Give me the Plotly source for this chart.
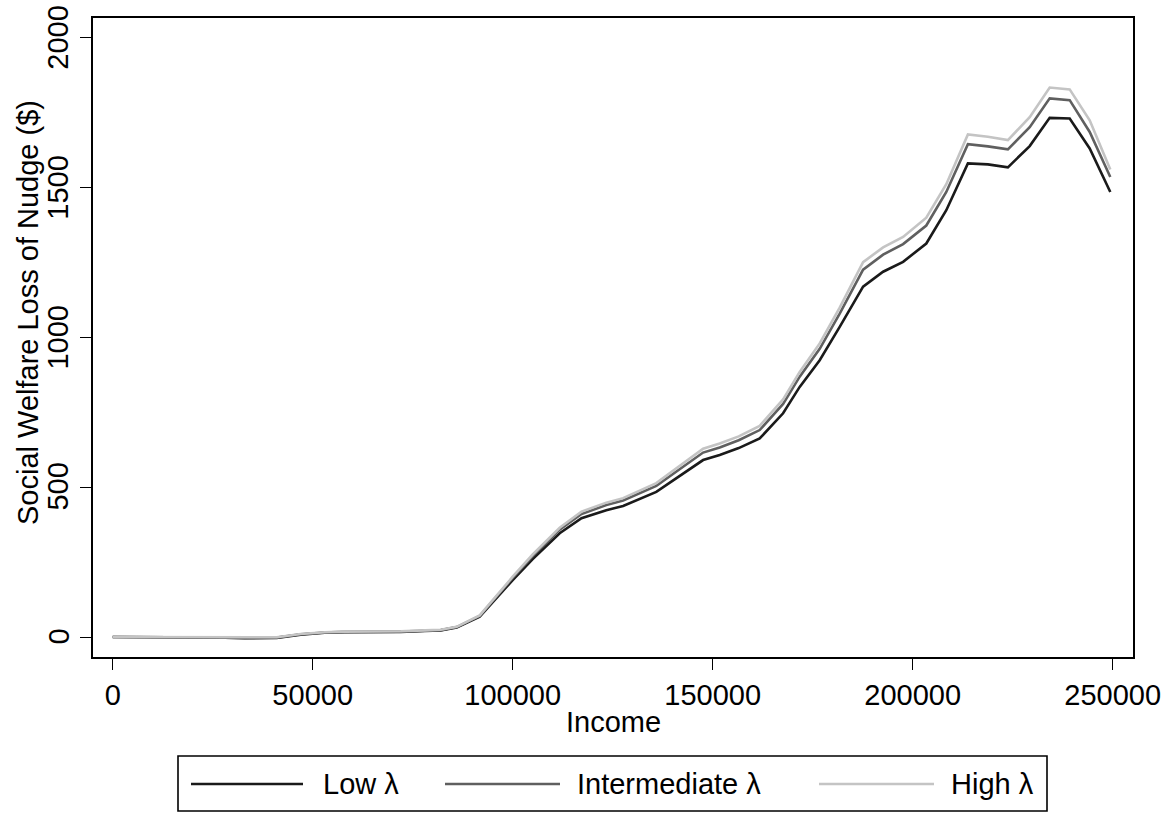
import plotly.graph_objects as go

# ---------------- data ----------------
income = [0, 5000, 10000, 15000, 20000, 25000, 28000, 33000, 38000, 41000,
          47000, 53000, 58000, 65000, 72000, 78000, 82000, 86000, 91750, 100000,
          105000, 111750, 117200, 123400, 127600, 135900, 140900, 147600, 151750, 156500,
          161750, 167600, 171750, 176750, 181750, 187600, 192600, 197600, 203400, 208400,
          213800, 218800, 223800, 229250, 234250, 239250, 244250, 249400]

low_lambda = [0, 0, 0, -1, 0, 0, -2, -4, -4, -3,
              8, 14, 16, 16, 17, 20, 22, 32, 68, 190,
              260, 346, 396, 423, 437, 484, 529, 590, 607, 630,
              662, 746, 834, 923, 1034, 1168, 1218, 1251, 1312, 1423,
              1579, 1576, 1566, 1637, 1731, 1729, 1629, 1484]

intermediate_lambda = [0, 0, 0, 0, 0, 0, -2, -3, -3, -2,
                       9, 15, 17, 17, 18, 21, 23, 33, 70, 197,
                       270, 358, 410, 440, 455, 504, 551, 615, 632, 656,
                       690, 777, 868, 961, 1078, 1225, 1275, 1310, 1372, 1484,
                       1643, 1636, 1626, 1700, 1796, 1790, 1684, 1534]

high_lambda = [0, 0, 0, 0, 0, 0, -1, -2, -2, -1,
               10, 16, 18, 18, 19, 22, 24, 34, 72, 201,
               275, 364, 418, 448, 463, 513, 561, 628, 645, 669,
               704, 792, 884, 979, 1098, 1250, 1299, 1334, 1398, 1510,
               1676, 1668, 1657, 1733, 1832, 1826, 1723, 1559]

series_names = ["Low \u03bb", "Intermediate \u03bb", "High \u03bb"]
series_values = [low_lambda, intermediate_lambda, high_lambda]
series_colors = ["#1a1a1a", "#5f5f5f", "#c4c4c4"]

x_ticks = [0, 50000, 100000, 150000, 200000, 250000]
y_ticks = [0, 500, 1000, 1500, 2000]

# ---------------- layout geometry (page pixels) ----------------
W, H = 1171, 813
L, R, T, B = 93, 1133, 18, 657  # plot frame in page pixels
FONT = "Liberation Sans, Arial, sans-serif"
FS = 29
Y_RANGE = [-66.7, 2064]


def px(xp):
    return (xp - L) / (R - L)


def py(yp):
    return (B - yp) / (B - T)


fig = go.Figure()
for name, vals, col in zip(series_names, series_values, series_colors):
    fig.add_trace(go.Scatter(x=income, y=vals, mode="lines", name=name,
                             line=dict(color=col, width=2.6), showlegend=False))

fig.update_layout(
    width=W, height=H, autosize=False,
    margin=dict(l=L, r=W - R, t=T, b=H - B, pad=0),
    paper_bgcolor="white", plot_bgcolor="white",
    font=dict(family=FONT, size=FS, color="black"),
)
fig.update_xaxes(range=[-4925, 255075], tickvals=x_ticks,
                 ticktext=[str(v) for v in x_ticks],
                 showgrid=False, zeroline=False, automargin=False,
                 showline=True, mirror=True, linecolor="black", linewidth=2,
                 ticks="outside", ticklen=11, tickwidth=1.2, tickcolor="black",
                 tickfont=dict(family=FONT, size=FS))
fig.update_yaxes(range=Y_RANGE, tickvals=y_ticks, showticklabels=False,
                 showgrid=False, zeroline=False, automargin=False,
                 showline=True, mirror=True, linecolor="black", linewidth=2,
                 ticks="outside", ticklen=11, tickwidth=1.2, tickcolor="black")

ann = []
# rotated y tick labels, placed on the y axis scale
for v in y_ticks:
    ann.append(dict(text=str(v), x=px(58.5), y=v, xref="paper", yref="y",
                    textangle=-90, xanchor="center", yanchor="middle",
                    showarrow=False, font=dict(family=FONT, size=FS)))
ann.append(dict(text="Income", x=px(613), y=py(722), xref="paper", yref="paper",
                xanchor="center", yanchor="middle", showarrow=False,
                font=dict(family=FONT, size=FS)))
ann.append(dict(text="Social Welfare Loss of Nudge ($)", x=px(28), y=py(313),
                xref="paper", yref="paper", textangle=-90,
                xanchor="center", yanchor="middle", showarrow=False,
                font=dict(family=FONT, size=FS)))

shapes = []
# legend box
shapes.append(dict(type="rect", xref="paper", yref="paper",
                   x0=px(178), x1=px(1047), y0=py(811), y1=py(756),
                   line=dict(color="black", width=1.6), fillcolor="white"))
leg_line = [(191, 303), (445, 560), (819, 934)]
leg_text = [321, 575, 949]
ly = 784
for (a, b), tx, name, col in zip(leg_line, leg_text, series_names, series_colors):
    shapes.append(dict(type="line", xref="paper", yref="paper",
                       x0=px(a), x1=px(b), y0=py(ly), y1=py(ly),
                       line=dict(color=col, width=2.6)))
    ann.append(dict(text=name, x=px(tx), y=py(ly), xref="paper", yref="paper",
                    xanchor="left", yanchor="middle", showarrow=False,
                    font=dict(family=FONT, size=FS)))

fig.update_layout(annotations=ann, shapes=shapes)
fig.write_html("out.html", config={"displayModeBar": False},
               post_script="document.body.style.margin='0px';"
                           "document.body.style.overflow='hidden';")
